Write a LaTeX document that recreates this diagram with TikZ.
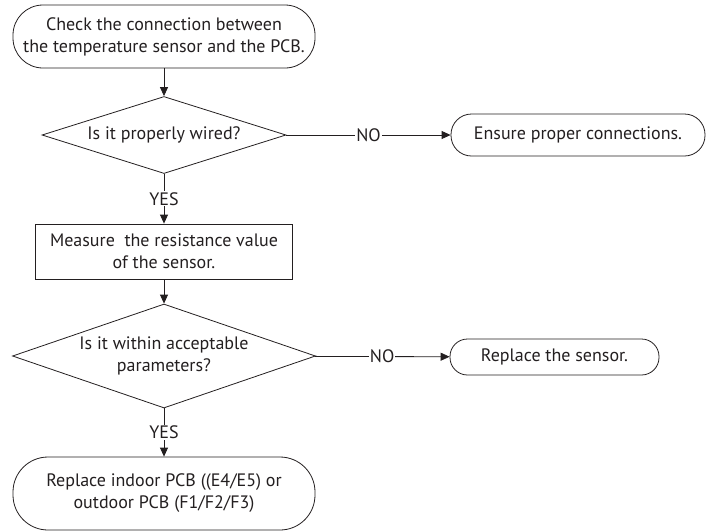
\documentclass[tikz,border=0pt]{standalone}
\usepackage{fontspec}
\setmainfont{PT Sans}
\usetikzlibrary{shapes.geometric,arrows.meta}
\definecolor{ink}{HTML}{231F20}
\begin{document}
\begin{tikzpicture}[x=1pt,y=-1pt,
  every node/.style={font=\fontsize{18}{22}\selectfont, text=ink},
  term/.style={draw=ink, line width=0.8pt, rounded corners=30pt, align=center, inner sep=0pt},
  procbox/.style={draw=ink, line width=0.8pt, align=center, inner sep=0pt},
  decide/.style={draw=ink, line width=0.8pt, diamond, aspect=3, align=center, inner sep=0pt},
  flow/.style={draw=ink, line width=0.8pt, -{Triangle[length=9pt,width=8pt]}},
  lab/.style={fill=white, inner sep=1pt}]
\useasboundingbox (0,0) rectangle (706,531);
\node[term, minimum width=302pt, minimum height=63pt] (start) at (164,36.5)
  {Check the connection between\\the temperature sensor and the PCB.};
\node[decide, minimum width=244pt, minimum height=77pt] (d1) at (164,135)
  {Is it properly wired?};
\node[term, rounded corners=20.5pt, minimum width=254pt, minimum height=42pt] (b1) at (578,135)
  {Ensure proper connections.};
\node[procbox, minimum width=257pt, minimum height=55pt] (meas) at (164,251.5)
  {Measure~ the resistance value\\of the sensor.};
\node[decide, minimum width=303pt, minimum height=104pt] (d2) at (164,356)
  {Is it within acceptable\\parameters?};
\node[term, rounded corners=17.5pt, minimum width=209pt, minimum height=36pt] (b2) at (554.5,357)
  {Replace the sensor.};
\node[term, rounded corners=35pt, minimum width=302pt, minimum height=73pt] (end) at (164,493.5)
  {Replace indoor PCB ((E4/E5) or\\outdoor PCB (F1/F2/F3)};
\draw[flow] (start) -- (d1);
\draw[flow] (d1) -- node[lab]{NO} (b1);
\draw[flow] (d1) -- node[lab]{YES} (meas);
\draw[flow] (meas) -- (d2);
\draw[flow] (d2) -- node[lab]{NO} (b2);
\draw[flow] (d2) -- node[lab]{YES} (end);
\end{tikzpicture}
\end{document}
